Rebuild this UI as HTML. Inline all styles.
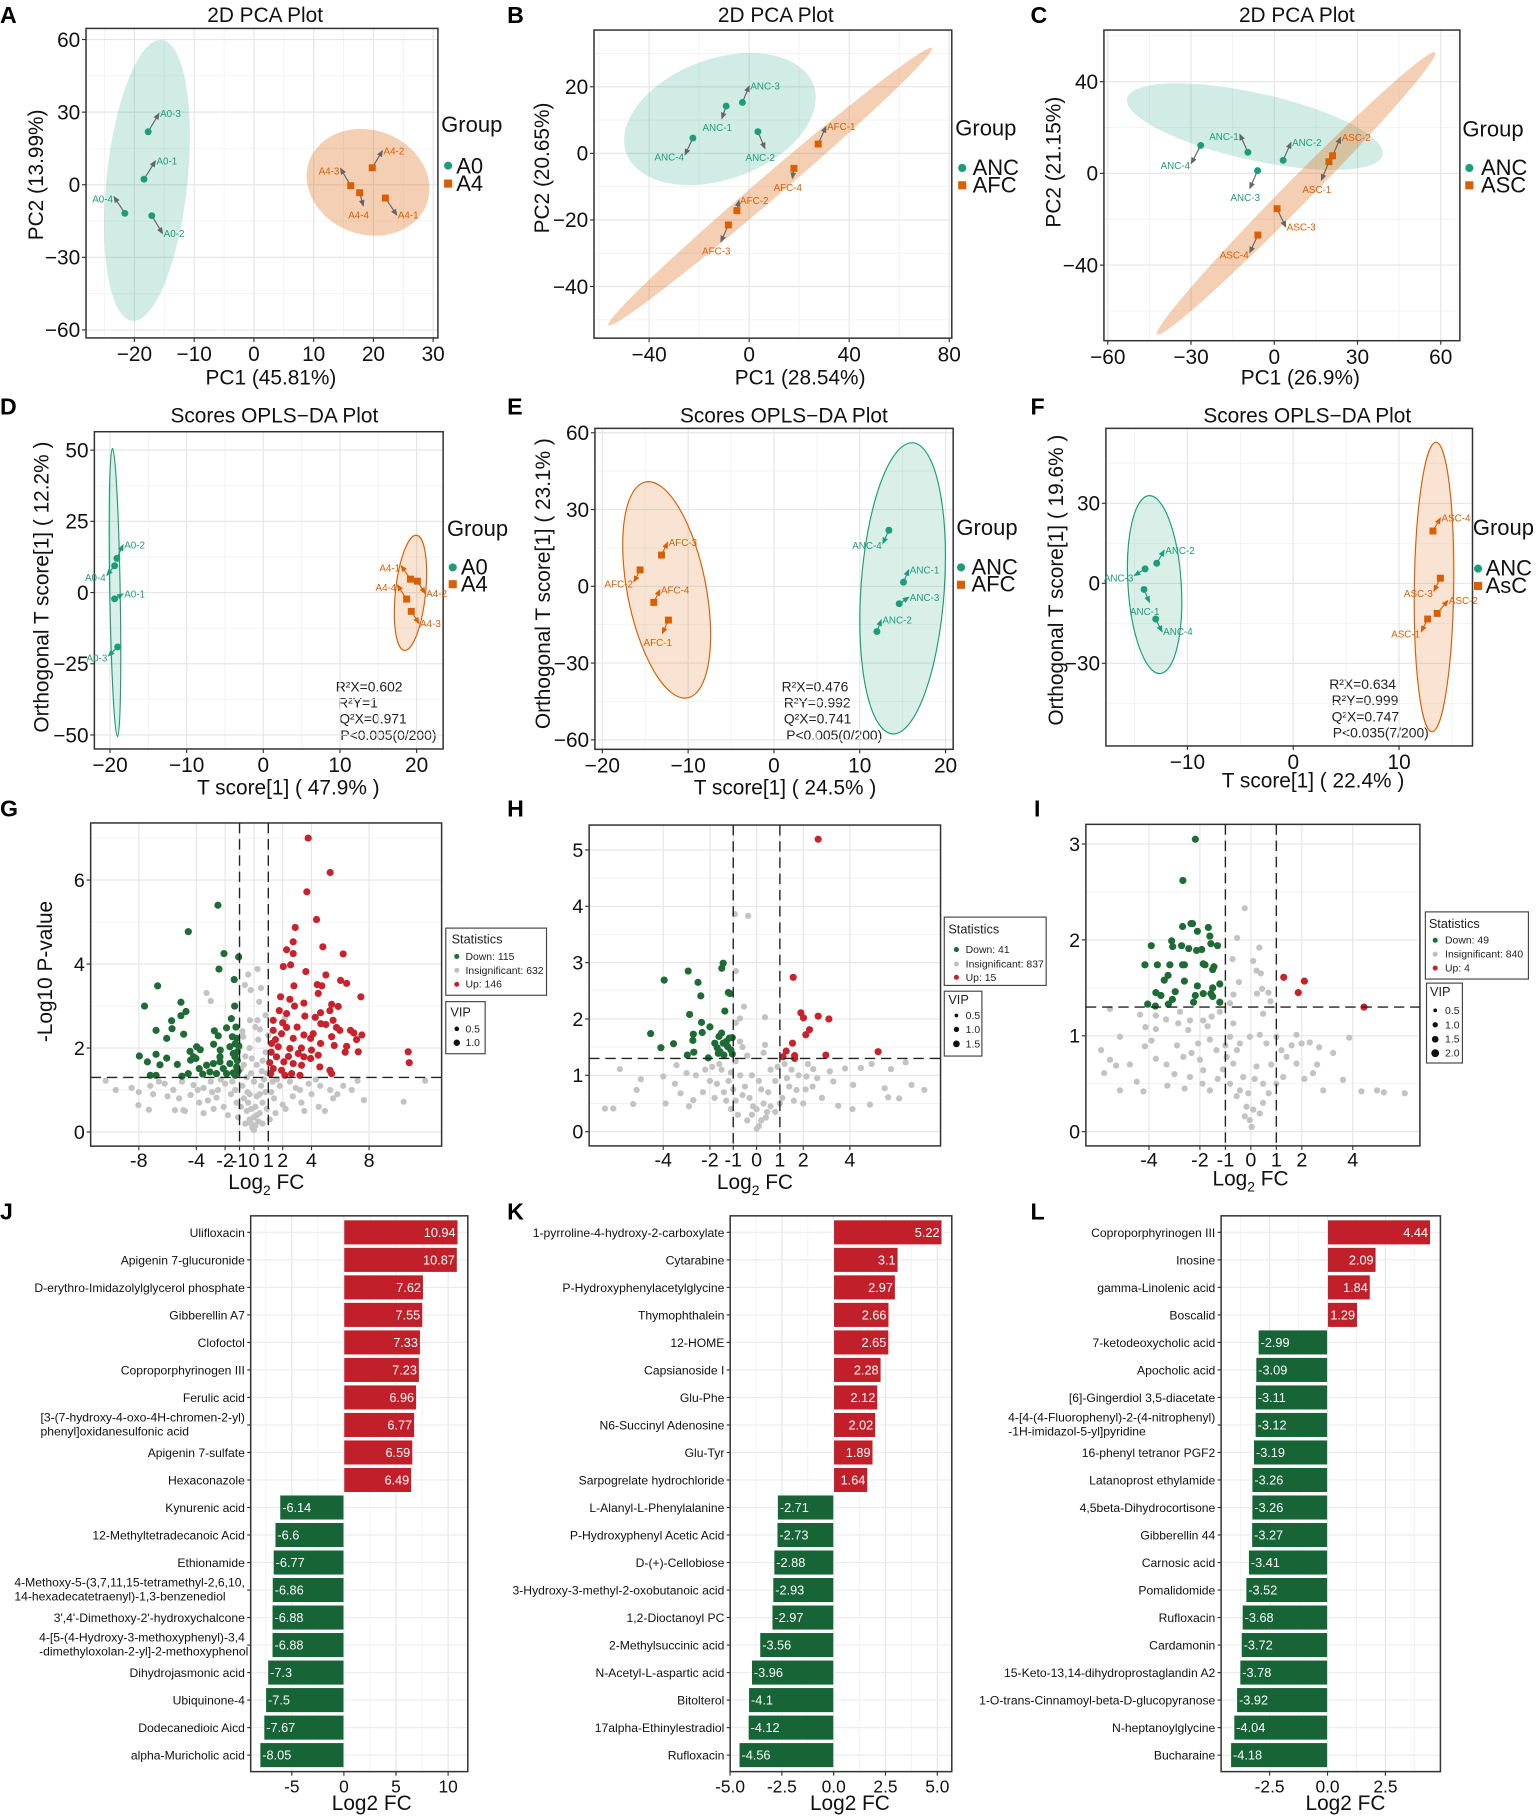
<!DOCTYPE html>
<html><head><meta charset="utf-8"><title>Metabolomics figure</title>
<style>
html,body{margin:0;padding:0;background:#fff;}
svg{display:block;font-family:"Liberation Sans",Arial,sans-serif;}
.tt{font-size:18px;fill:#111;}
.ax{font-size:18px;fill:#111;}
.lt{font-size:20px;font-weight:bold;fill:#000;}
.st{font-size:12px;fill:#222;}
.lg{font-size:19px;fill:#111;}
.lgs{font-size:9px;fill:#222;}
</style></head>
<body>
<svg id="fig" xmlns="http://www.w3.org/2000/svg" width="1540" height="1818" viewBox="0 0 1330 1570">
<defs>
<marker id="arG" markerWidth="6" markerHeight="6" refX="5" refY="3" orient="auto" markerUnits="userSpaceOnUse"><path d="M0,0.5 L6,3 L0,5.5z" fill="#666"/></marker>
<marker id="arT" markerWidth="6" markerHeight="6" refX="5" refY="3" orient="auto" markerUnits="userSpaceOnUse"><path d="M0,0.5 L6,3 L0,5.5z" fill="#1b9e77"/></marker>
<marker id="arO" markerWidth="6" markerHeight="6" refX="5" refY="3" orient="auto" markerUnits="userSpaceOnUse"><path d="M0,0.5 L6,3 L0,5.5z" fill="#d95f02"/></marker>
</defs>
<rect x="0" y="0" width="1330" height="1570" fill="#fff"/>

<!-- panel letters -->
<text class="lt" x="0" y="20">A</text>
<text class="lt" x="438" y="20">B</text>
<text class="lt" x="890" y="20">C</text>
<text class="lt" x="0" y="358">D</text>
<text class="lt" x="438" y="358">E</text>
<text class="lt" x="890" y="358">F</text>
<text class="lt" x="0" y="705">G</text>
<text class="lt" x="438" y="705">H</text>
<text class="lt" x="893" y="705">I</text>
<text class="lt" x="0" y="1053">J</text>
<text class="lt" x="438" y="1053">K</text>
<text class="lt" x="890" y="1053">L</text>

<!-- titles -->
<text class="tt" x="229" y="19" text-anchor="middle">2D PCA Plot</text>
<text class="tt" x="670" y="19" text-anchor="middle">2D PCA Plot</text>
<text class="tt" x="1120" y="19" text-anchor="middle">2D PCA Plot</text>
<text class="tt" x="237" y="365" text-anchor="middle">Scores OPLS−DA Plot</text>
<text class="tt" x="677" y="365" text-anchor="middle">Scores OPLS−DA Plot</text>
<text class="tt" x="1129" y="365" text-anchor="middle">Scores OPLS−DA Plot</text>

<!-- axis titles -->
<text class="ax" x="234" y="332" text-anchor="middle">PC1 (45.81%)</text>
<text class="ax" x="691" y="332" text-anchor="middle">PC1 (28.54%)</text>
<text class="ax" x="1123" y="332" text-anchor="middle">PC1 (26.9%)</text>
<text class="ax" transform="translate(37,151) rotate(-90)" text-anchor="middle">PC2 (13.99%)</text>
<text class="ax" transform="translate(474,145) rotate(-90)" text-anchor="middle">PC2 (20.65%)</text>
<text class="ax" transform="translate(916,140) rotate(-90)" text-anchor="middle">PC2 (21.15%)</text>
<text class="ax" x="249" y="686" text-anchor="middle">T score[1] ( 47.9% )</text>
<text class="ax" x="678" y="686" text-anchor="middle">T score[1] ( 24.5% )</text>
<text class="ax" x="1134" y="680" text-anchor="middle">T score[1] ( 22.4% )</text>
<text class="ax" transform="translate(42,507) rotate(-90)" text-anchor="middle">Orthogonal T score[1] ( 12.2% )</text>
<text class="ax" transform="translate(475,504) rotate(-90)" text-anchor="middle">Orthogonal T score[1] ( 23.1% )</text>
<text class="ax" transform="translate(918,501) rotate(-90)" text-anchor="middle">Orthogonal T score[1] ( 19.6% )</text>
<text class="ax" transform="translate(45,839) rotate(-90)" text-anchor="middle">-Log10 P-value</text>
<text class="ax" x="230" y="1027" text-anchor="middle">Log<tspan font-size="12" dy="5">2</tspan><tspan dy="-5"> FC</tspan></text>
<text class="ax" x="652" y="1027" text-anchor="middle">Log<tspan font-size="12" dy="5">2</tspan><tspan dy="-5"> FC</tspan></text>
<text class="ax" x="1080" y="1024" text-anchor="middle">Log<tspan font-size="12" dy="5">2</tspan><tspan dy="-5"> FC</tspan></text>
<text class="ax" x="321" y="1563" text-anchor="middle">Log2 FC</text>
<text class="ax" x="734" y="1563" text-anchor="middle">Log2 FC</text>
<text class="ax" x="1162" y="1563" text-anchor="middle">Log2 FC</text>

<!-- group legends -->
<g>
<text class="lg" x="381" y="114">Group</text>
<circle cx="387" cy="143" r="3.5" fill="#1b9e77"/>
<text class="lg" x="394" y="150">A0</text>
<rect x="383.5" y="155" width="7" height="7" fill="#d95f02"/>
<text class="lg" x="394" y="165">A4</text>
</g>
<g>
<text class="lg" x="825" y="117">Group</text>
<circle cx="831" cy="145" r="3.5" fill="#1b9e77"/>
<text class="lg" x="840" y="151">ANC</text>
<rect x="827.5" y="156.5" width="7" height="7" fill="#d95f02"/>
<text class="lg" x="840" y="166">AFC</text>
</g>
<g>
<text class="lg" x="1263" y="118">Group</text>
<circle cx="1269" cy="145" r="3.5" fill="#1b9e77"/>
<text class="lg" x="1279" y="151">ANC</text>
<rect x="1265.5" y="156.5" width="7" height="7" fill="#d95f02"/>
<text class="lg" x="1279" y="166">ASC</text>
</g>
<g>
<text class="lg" x="386" y="463">Group</text>
<circle cx="391" cy="490" r="3.5" fill="#1b9e77"/>
<text class="lg" x="398" y="496">A0</text>
<rect x="387.5" y="501" width="7" height="7" fill="#d95f02"/>
<text class="lg" x="398" y="511">A4</text>
</g>
<g>
<text class="lg" x="826" y="462">Group</text>
<circle cx="830" cy="490" r="3.5" fill="#1b9e77"/>
<text class="lg" x="839" y="496">ANC</text>
<rect x="826.5" y="501.5" width="7" height="7" fill="#d95f02"/>
<text class="lg" x="839" y="511">AFC</text>
</g>
<g>
<text class="lg" x="1272" y="462">Group</text>
<circle cx="1276.5" cy="491" r="3.5" fill="#1b9e77"/>
<text class="lg" x="1283" y="497">ANC</text>
<rect x="1273" y="502.5" width="7" height="7" fill="#d95f02"/>
<text class="lg" x="1283" y="512">AsC</text>
</g>

<!-- OPLS stats -->
<g>
<text class="st" x="290" y="597">R²X=0.602</text><text class="st" x="292" y="611">R²Y=1</text>
<text class="st" x="293" y="625">Q²X=0.971</text><text class="st" x="294" y="639">P&lt;0.005(0/200)</text>
</g>
<g>
<text class="st" x="675" y="597">R²X=0.476</text><text class="st" x="677" y="611">R²Y=0.992</text>
<text class="st" x="677" y="625">Q²X=0.741</text><text class="st" x="679" y="639">P&lt;0.005(0/200)</text>
</g>
<g>
<text class="st" x="1148" y="595">R²X=0.634</text><text class="st" x="1150" y="609">R²Y=0.999</text>
<text class="st" x="1150" y="623">Q²X=0.747</text><text class="st" x="1151" y="637">P&lt;0.035(7/200)</text>
</g>

<!-- volcano legends -->
<g>
<rect x="385" y="801.5" width="87" height="58" fill="#fff" stroke="#444" stroke-width="1"/>
<text x="390" y="815" font-size="11" fill="#222">Statistics</text>
<circle cx="394.5" cy="826" r="2.2" fill="#1e6b35"/><text class="lgs" x="402" y="829">Down: 115</text>
<circle cx="394.5" cy="838" r="2.2" fill="#c0c0c0"/><text class="lgs" x="402" y="841">Insignificant: 632</text>
<circle cx="394.5" cy="850" r="2.2" fill="#c8232c"/><text class="lgs" x="402" y="853">Up: 146</text>
</g>
<g>
<rect x="385" y="865" width="34" height="45" fill="#fff" stroke="#444" stroke-width="1"/>
<text x="389" y="878" font-size="11" fill="#222">VIP</text>
<circle cx="394.5" cy="888.5" r="2" fill="#111"/><text class="lgs" x="402" y="891.5">0.5</text>
<circle cx="394.5" cy="900.5" r="2.8" fill="#111"/><text class="lgs" x="402" y="903.5">1.0</text>
</g>
<g>
<rect x="815.5" y="792" width="88" height="59" fill="#fff" stroke="#444" stroke-width="1"/>
<text x="819" y="806" font-size="11" fill="#222">Statistics</text>
<circle cx="826" cy="820" r="2.2" fill="#1e6b35"/><text class="lgs" x="834" y="823">Down: 41</text>
<circle cx="826" cy="832.5" r="2.2" fill="#c0c0c0"/><text class="lgs" x="834" y="835.5">Insignificant: 837</text>
<circle cx="826" cy="844" r="2.2" fill="#c8232c"/><text class="lgs" x="834" y="847">Up: 15</text>
</g>
<g>
<rect x="815.5" y="856" width="32.5" height="56" fill="#fff" stroke="#444" stroke-width="1"/>
<text x="819" y="867" font-size="11" fill="#222">VIP</text>
<circle cx="826" cy="877" r="1.6" fill="#111"/><text class="lgs" x="834" y="880">0.5</text>
<circle cx="826" cy="889" r="2.3" fill="#111"/><text class="lgs" x="834" y="892">1.0</text>
<circle cx="826" cy="901.5" r="2.9" fill="#111"/><text class="lgs" x="834" y="904.5">1.5</text>
</g>
<g>
<rect x="1231" y="787.5" width="89" height="58" fill="#fff" stroke="#444" stroke-width="1"/>
<text x="1234" y="801.5" font-size="11" fill="#222">Statistics</text>
<circle cx="1239.5" cy="812" r="2.2" fill="#1e6b35"/><text class="lgs" x="1248" y="815">Down: 49</text>
<circle cx="1239.5" cy="824" r="2.2" fill="#c0c0c0"/><text class="lgs" x="1248" y="827">Insignificant: 840</text>
<circle cx="1239.5" cy="836" r="2.2" fill="#c8232c"/><text class="lgs" x="1248" y="839">Up: 4</text>
</g>
<g>
<rect x="1232" y="849" width="31" height="69" fill="#fff" stroke="#444" stroke-width="1"/>
<text x="1235" y="860" font-size="11" fill="#222">VIP</text>
<circle cx="1239.5" cy="872.5" r="1.6" fill="#111"/><text class="lgs" x="1248" y="875.5">0.5</text>
<circle cx="1239.5" cy="885" r="2.3" fill="#111"/><text class="lgs" x="1248" y="888">1.0</text>
<circle cx="1239.5" cy="897.5" r="2.9" fill="#111"/><text class="lgs" x="1248" y="900.5">1.5</text>
<circle cx="1239.5" cy="909.5" r="3.4" fill="#111"/><text class="lgs" x="1248" y="912.5">2.0</text>
</g>

<g id="plots"></g>
</svg>

<script>
// ===== PCA / OPLS data =====
const A_names=['A0-1','A0-2','A0-3','A0-4','A4-1','A4-2','A4-3','A4-4'];
const A_group=[0,0,0,0,1,1,1,1];
const A_x=[-18.4,-17.1,-17.7,-21.6,22,19.8,16.2,17.7];
const A_y=[2.3,-12.8,21.9,-11.8,-5.5,7,-0.4,-3.3];
const A_tx=[-16.5,-15.3,-15.9,-23.4,23.9,21.5,14.5,18.3];
const A_ty=[9.8,-20.1,29.4,-5,-12.5,14,6.7,-8.7];

const B_names=['ANC-1','ANC-2','ANC-3','ANC-4','AFC-1','AFC-2','AFC-3','AFC-4'];
const B_group=[0,0,0,0,1,1,1,1];
const B_x=[-9.2,3.5,-2.7,-22.5,27.6,-4.9,-8.3,17.9];
const B_y=[14.2,6.5,15.3,4.6,2.8,-17.2,-21.5,-4.5];
const B_tx=[-10.9,6.3,0,-25.6,30.7,-4.1,-11.3,17.3];
const B_ty=[10.5,1.5,20.2,-0.4,8,-14.2,-26.5,-7.5];

const C_names=['ANC-1','ANC-2','ANC-3','ANC-4','ASC-1','ASC-2','ASC-3','ASC-4'];
const C_group=[0,0,0,0,1,1,1,1];
const C_x=[-9.5,3.2,-6,-26.5,19.7,21,1,-5.9];
const C_y=[9.2,5.7,1.2,12.2,5.1,7.7,-15.4,-26.9];
const C_tx=[-12.4,6,-8.8,-29.9,17,23.9,4.1,-8.8];
const C_ty=[17,13.4,-6.5,4.4,-2.9,15.6,-23.3,-34.5];

const D_names=['A0-1','A0-2','A0-3','A0-4','A4-1','A4-2','A4-3','A4-4'];
const D_group=[0,0,0,0,1,1,1,1];
const D_x=[-19.4,-19.1,-19,-19.4,19.2,20.1,19.3,18.7];
const D_y=[-2.2,12,-19.1,9.4,4.7,4,-6.6,-2.3];
const D_tx=[-18.3,-18.3,-20.2,-20.4,18,21.1,20.3,17.5];
const D_ty=[-0.5,16.7,-22.2,6.1,9.4,-0.3,-10.8,2.6];

const E_names=['AFC-1','AFC-2','AFC-3','AFC-4','ANC-1','ANC-2','ANC-3','ANC-4'];
const E_group=[1,1,1,1,0,0,0,0];
const E_x=[-12.3,-15.6,-13.1,-14,15.1,12,14.6,13.4];
const E_y=[-13.2,6.4,12.2,-6.3,1.6,-17.7,-6.8,21.9];
const E_tx=[-13,-16.3,-12.4,-13.3,15.7,12.5,15.7,12.7];
const E_ty=[-18.4,1.8,17.1,-1.4,6.4,-13.2,-4.3,16.8];

const F_names=['ANC-1','ANC-2','ANC-3','ANC-4','ASC-1','ASC-2','ASC-3','ASC-4'];
const F_group=[0,0,0,0,1,1,1,1];
const F_x=[-14.1,-12.9,-14,-13,12.7,13.6,13.9,13.2];
const F_y=[-2.3,7.5,5.4,-13.4,-13.4,-11.3,1.9,19.6];
const F_tx=[-13.6,-12.2,-15,-12.4,12.1,14.6,13.3,13.9];
const F_ty=[-7.1,12.3,2.9,-18.1,-18.1,-6.5,-2.9,24.4];

// confidence ellipse centres (data units)
const A_ellCx=[-17.9,19.1], A_ellCy=[1.8,1];
const B_ellCx=[-11.7,8.4], B_ellCy=[10.3,-10];
const C_ellCx=[-7,7.9], C_ellCy=[20.4,-8.7];
const D_ellCx=[-19.35,19.2], D_ellCy=[0,-0.1];
const E_ellCx=[15,-12.5], E_ellCy=[-0.8,-1.4];
const F_ellCx=[-13.1,13.3], F_ellCy=[-0.5,-1.4];

// ===== Volcano data =====
const G_down=[[-2.5,5.4],[-4.56,4.77],[-2.08,4.25],[-1.06,4.17],[-2.43,3.88],[-1.37,3.63],[-6.69,3.48],[-7.6,3.0],[-5.07,3.09],[-4.72,2.87],[-5.72,2.65],[-5.07,2.77],[-1.34,3.0],[-1.57,2.7],[-6.8,2.42],[-5.69,2.46],[-6.06,2.23],[-4.88,2.33],[-2.75,2.41],[-2.48,2.29],[-1.9,2.48],[-1.25,2.5],[-1.2,2.23],[-4.44,1.92],[-3.98,2.03],[-3.73,1.96],[-2.8,2.09],[-2.34,1.95],[-1.67,2.03],[-1.3,2.1],[-7.96,1.81],[-6.8,1.85],[-7.4,1.67],[-6.53,1.6],[-6.06,1.76],[-5.32,1.61],[-4.4,1.71],[-4.03,1.75],[-3.8,1.51],[-3.29,1.59],[-2.82,1.63],[-2.36,1.67],[-2.13,1.51],[-1.67,1.63],[-1.32,1.79],[-1.2,1.55],[-7.2,1.35],[-6.8,1.35],[-5.0,1.33],[-4.56,1.39],[-3.56,1.38],[-3.06,1.43],[-2.6,1.39],[-1.9,1.39],[-1.44,1.41],[-1.16,1.91],[-1.44,1.87],[-1.5,2.27],[-2.36,1.79],[-4.2,1.79],[-1.1,1.45],[-1.15,1.7],[-1.3,1.35],[-1.05,2.05]];
const G_up=[[3.77,7.0],[5.3,6.18],[3.68,5.72],[4.35,5.06],[2.87,4.87],[4.79,4.41],[2.73,4.53],[2.27,4.34],[2.73,4.25],[6.2,4.24],[2.04,3.94],[2.55,3.98],[3.61,3.82],[5.0,3.74],[6.02,3.61],[6.44,3.54],[4.4,3.51],[4.72,3.48],[2.78,3.48],[7.43,3.22],[1.85,3.22],[2.5,3.16],[4.47,3.3],[3.47,3.07],[5.4,3.04],[5.86,2.99],[2.82,3.0],[1.76,2.89],[1.34,2.66],[2.27,2.82],[3.54,2.76],[4.26,2.73],[4.63,2.84],[5.28,2.89],[5.5,2.66],[4.65,2.58],[5.0,2.56],[5.74,2.49],[5.97,2.42],[6.71,2.42],[6.94,2.36],[7.5,2.31],[7.13,2.2],[1.34,2.42],[1.92,2.34],[2.27,2.49],[2.73,2.23],[3.47,2.31],[3.94,2.23],[4.12,2.34],[4.63,2.11],[5.4,2.27],[5.58,2.06],[6.44,2.04],[6.34,1.9],[7.25,1.91],[1.23,2.11],[1.69,2.03],[2.5,1.99],[3.08,1.87],[3.47,1.79],[4.0,1.95],[4.47,1.83],[1.57,1.79],[2.08,1.67],[2.73,1.63],[3.31,1.59],[3.94,1.75],[4.58,1.55],[5.28,1.47],[1.34,1.51],[1.92,1.47],[2.62,1.39],[3.2,1.35],[5.4,1.39],[10.72,1.91],[10.79,1.65],[1.16,1.39],[2.15,1.35],[1.2,1.9],[1.5,2.2],[2.0,2.6],[3.0,2.5],[3.3,2.0],[2.4,1.8],[1.1,1.65]];
const G_ns=[[-10.3,1.22],[11.9,1.22],[-8.03,0.64],[-7.3,0.53],[-5.49,0.52],[-4.9,0.52],[7.64,0.76],[10.4,0.72],[4.93,0.5],[-3.29,3.31],[-3.0,3.12],[-0.39,3.75],[0.25,3.88],[-0.63,3.5],[-0.23,3.38],[0.37,3.1],[0.49,3.43],[-0.28,2.66],[0.25,2.66],[0.81,2.78],[2.15,2.7],[0.42,2.44],[-0.74,2.27],[-9.6,1.0],[-8.5,1.05],[-7.2,1.1],[-6.2,1.15],[-5.0,1.2],[-4.2,1.12],[-3.5,1.05],[-3,1.2],[-2.5,1.0],[-2.0,1.15],[1.8,1.1],[2.5,1.2],[3.2,1.0],[3.8,1.15],[4.6,1.1],[5.3,1.0],[5.8,0.9],[6.2,1.1],[7.2,1.22],[-8.0,0.95],[-7.0,0.9],[-6,0.85],[-5.2,0.8],[-4.4,0.88],[-3.8,0.7],[-3.2,0.75],[-2.6,0.82],[-2.1,0.6],[-1.6,0.9],[-1.2,0.7],[1.4,0.8],[2.0,0.65],[2.7,0.85],[3.3,0.7],[4.0,0.9],[4.5,0.6],[5.5,0.8],[-4.8,0.5],[-3.5,0.45],[-2.8,0.55],[-1.8,0.4],[1.5,0.45],[2.2,0.55],[3.5,0.5],[-0.9,1.5],[-0.6,1.8],[-0.3,2.0],[0.3,2.2],[0.6,1.7],[0.9,1.4],[-0.8,1.1],[-0.5,1.3],[0,1.2],[0.5,1.1],[0.8,0.95],[-0.7,0.8],[-0.3,0.9],[0.2,0.85],[0.6,0.7],[-0.5,0.5],[-0.2,0.55],[0.1,0.6],[0.4,0.45],[-0.3,0.3],[0,0.35],[0.3,0.25],[-0.1,0.1],[0.1,0.15],[0,0.05],[-0.6,0.2],[0.6,0.2],[-1.1,0.35],[1.1,0.3],[-1.4,1.4],[1.3,1.2],[-1.0,2.0],[1.0,2.3],[0.2,1.6],[-0.2,1.4],[-0.9,0.6],[0.9,0.55],[-0.4,0.7],[0.4,0.9],[-1.3,1.0],[1.2,0.95],[-0.7,1.6],[0.7,1.25],[-1.5,1.2],[1.6,1.25],[-2.3,1.25],[-2.9,0.95],[2.9,1.05],[-3.9,1.0],[4.3,1.25],[-5.6,1.0],[6.8,1.0],[-6.6,1.2],[-0.2,0.2],[0.2,0.4],[-0.45,0.95],[0.55,1.45],[-0.15,1.75],[0.8,1.9],[-0.8,2.4],[0.1,2.5]];

const H_down=[[-4.54,1.74],[-4.1,1.49],[-3.56,1.56],[-3.96,2.69],[-2.93,2.85],[-2.51,2.65],[-2.39,2.41],[-2.87,2.08],[-2.36,1.94],[-2.0,1.86],[-2.33,1.76],[-2.71,1.73],[-2.73,1.62],[-2.69,1.41],[-2.97,1.36],[-2.07,1.31],[-1.43,2.99],[-1.49,2.9],[-1.21,2.47],[-1.14,2.45],[-1.36,2.14],[-1.61,1.69],[-1.43,1.57],[-1.17,1.66],[-1.04,1.67],[-1.79,1.57],[-1.69,1.49],[-1.57,1.42],[-1.4,1.36],[-1.04,1.38],[-1.24,1.51],[-1.64,1.39],[-1.3,1.6],[-1.5,1.75],[-1.1,1.45]];
const H_up=[[2.64,5.19],[1.57,2.74],[1.9,2.11],[2.01,2.02],[2.64,2.05],[3.1,2.0],[2.27,1.81],[2.11,1.72],[1.54,1.57],[1.27,1.43],[1.13,1.33],[1.63,1.35],[1.63,1.3],[2.97,1.36],[5.21,1.42]];
const H_ns=[[-0.93,3.86],[-0.36,3.83],[-0.89,2.85],[-0.54,2.22],[-0.71,2.01],[0.36,2.03],[-0.89,1.93],[0.36,1.54],[-0.71,1.6],[-5.86,1.11],[-6.5,0.41],[-6.14,0.41],[-5.29,0.49],[-4.96,0.93],[-5.14,0.74],[-3.9,0.5],[-4,0.98],[-3.43,1.18],[-3.0,1.04],[-3.26,0.68],[-2.71,0.56],[6.39,1.23],[6.64,0.83],[7.19,0.74],[6.11,0.59],[5.64,0.61],[5.76,1.11],[4.93,1.2],[4.47,1.13],[5.49,0.77],[4.86,0.48],[4.11,0.4],[3.5,0.46],[4.14,0.83],[3.79,1.12],[3.29,0.89],[2.43,1.11],[3.14,1.07],[2.14,0.98],[1.71,0.74],[2,0.5],[-1.5,1.1],[-1.2,0.9],[-2.0,0.9],[-2.3,0.7],[-1.8,0.6],[-1.3,0.55],[-1.0,0.75],[-0.7,1.0],[-0.5,0.8],[-0.3,0.6],[0,0.4],[0.3,0.5],[0.5,0.7],[0.8,0.9],[1.1,0.6],[1.4,0.8],[1.8,1.0],[2.4,0.8],[2.8,0.6],[-0.8,0.3],[-0.4,0.2],[0.1,0.1],[0,0.05],[0.4,0.25],[0.8,0.35],[-1.1,0.4],[-0.2,0.3],[0.2,0.2],[-2.6,1.0],[-1.6,1.2],[1.2,1.2],[0.6,1.1],[-0.9,1.25],[2.2,1.2],[-0.6,1.5],[-0.4,1.35],[0.3,1.4],[-2.9,0.45],[-1.7,0.85],[-1.4,0.7],[-0.9,0.55],[-0.6,0.65],[0.2,0.75],[0.6,0.45],[1.0,0.5],[1.3,0.95],[1.6,0.55],[2.1,0.75],[-2.2,1.1],[-1.9,1.15],[0.9,1.15],[-0.2,1.0],[0.1,0.9],[-3.5,0.85],[2.6,0.95],[1.5,1.1],[-1.1,1.05],[-0.15,0.45],[0.45,0.35]];

const I_down=[[-2.18,3.05],[-2.67,2.62],[-3.91,1.94],[-4.16,1.74],[-3.67,1.74],[-3.18,1.74],[-3.11,1.99],[-3.07,1.93],[-2.72,1.94],[-2.68,2.14],[-2.35,2.17],[-2.29,2.17],[-2.1,2.09],[-1.67,2.13],[-1.61,2.04],[-1.57,1.96],[-1.31,1.94],[-2.44,1.91],[-2.13,1.89],[-1.93,1.9],[-2.68,1.74],[-2.61,1.74],[-1.87,1.75],[-1.8,1.74],[-1.45,1.72],[-1.5,1.69],[-3.25,1.63],[-3.4,1.58],[-2.61,1.57],[-2.1,1.52],[-1.22,1.54],[-1.5,1.5],[-3.73,1.45],[-3.53,1.42],[-2.97,1.46],[-1.87,1.44],[-1.57,1.44],[-1.5,1.41],[-2.18,1.42],[-3.08,1.38],[-4.05,1.33],[-3.75,1.31],[-3.24,1.33],[-2.25,1.35],[-1.22,1.35]];
const I_up=[[1.29,1.61],[2.1,1.57],[1.86,1.45],[4.44,1.3]];
const I_ns=[[-0.24,2.33],[-0.54,2.02],[0.33,1.92],[-0.72,1.8],[0.09,1.78],[0.22,1.68],[0.39,1.65],[-0.47,1.56],[-0.68,1.43],[0.44,1.49],[0.69,1.45],[0.77,1.36],[0.24,1.44],[-5.53,1.28],[-5.14,0.99],[-5.88,0.85],[-5.53,0.75],[-5.76,0.61],[-5.29,0.69],[-4.75,0.7],[-4.48,0.52],[-5.14,0.43],[-4.22,0.42],[-4.16,0.89],[-4.14,1.09],[-4.35,1.22],[-3.73,1.21],[-3.33,1.17],[-3.73,1.07],[-3.9,0.95],[-3.73,0.76],[-3.31,0.7],[-3.28,0.48],[-2.78,1.25],[-2.85,1.13],[-2.46,1.06],[-1.87,1.16],[-1.54,1.2],[-1.22,1.25],[-2.33,0.82],[-2.65,0.78],[-2.07,0.92],[-1.61,0.96],[-1.35,0.85],[-0.95,0.78],[-1.87,0.64],[-2.39,0.57],[-1.61,0.43],[-0.69,1.13],[-0.82,0.99],[-0.43,0.92],[-0.04,0.99],[0.35,1.01],[0.61,0.92],[1.0,0.99],[1.79,1.01],[1.99,0.92],[2.31,0.93],[2.68,0.88],[3.23,0.82],[3.86,0.98],[3.62,0.54],[4.34,0.42],[4.95,0.43],[5.22,0.41],[6.04,0.4],[2.84,0.43],[2.44,0.61],[1.79,0.71],[1.27,0.57],[1.4,0.78],[1.0,0.5],[0.48,0.5],[-0.3,0.57],[-0.82,0.5],[-0.56,0.37],[-0.17,0.26],[0.09,0.23],[-0.04,0.12],[0.03,0.05],[-0.24,0.16],[0.35,0.19],[0.48,0.3],[-0.43,0.43],[0.22,0.68],[-0.69,0.71],[-0.82,1.34],[-2.39,1.16],[0.48,1.23],[-1.1,0.65],[-1.3,0.55],[-2.0,0.75],[-2.9,0.9],[-3.0,0.6],[-2.6,0.45],[-1.9,0.5],[0.8,0.7],[1.6,0.9],[2.1,0.55],[2.6,0.7],[-0.1,0.4],[0.15,0.55],[-0.55,0.85],[0.7,0.4],[-1.0,0.9],[-1.7,1.1],[1.2,0.85]];

// ===== Bar data =====
const J_names=['Ulifloxacin','Apigenin 7-glucuronide','D-erythro-Imidazolylglycerol phosphate','Gibberellin A7','Clofoctol','Coproporphyrinogen III','Ferulic acid','[3-(7-hydroxy-4-oxo-4H-chromen-2-yl)|phenyl]oxidanesulfonic acid','Apigenin 7-sulfate','Hexaconazole','Kynurenic acid','12-Methyltetradecanoic Acid','Ethionamide','4-Methoxy-5-(3,7,11,15-tetramethyl-2,6,10,|14-hexadecatetraenyl)-1,3-benzenediol',"3',4'-Dimethoxy-2'-hydroxychalcone",'4-[5-(4-Hydroxy-3-methoxyphenyl)-3,4|-dimethyloxolan-2-yl]-2-methoxyphenol','Dihydrojasmonic acid','Ubiquinone-4','Dodecanedioic Aicd','alpha-Muricholic acid'];
const J_vals=[10.94,10.87,7.62,7.55,7.33,7.23,6.96,6.77,6.59,6.49,-6.14,-6.6,-6.77,-6.86,-6.88,-6.88,-7.3,-7.5,-7.67,-8.05];
const J_ticks=[-5,0,5,10];
const K_names=['1-pyrroline-4-hydroxy-2-carboxylate','Cytarabine','P-Hydroxyphenylacetylglycine','Thymophthalein','12-HOME','Capsianoside I','Glu-Phe','N6-Succinyl Adenosine','Glu-Tyr','Sarpogrelate hydrochloride','L-Alanyl-L-Phenylalanine','P-Hydroxyphenyl Acetic Acid','D-(+)-Cellobiose','3-Hydroxy-3-methyl-2-oxobutanoic acid','1,2-Dioctanoyl PC','2-Methylsuccinic acid','N-Acetyl-L-aspartic acid','Bitolterol','17alpha-Ethinylestradiol','Rufloxacin'];
const K_vals=[5.22,3.1,2.97,2.66,2.65,2.28,2.12,2.02,1.89,1.64,-2.71,-2.73,-2.88,-2.93,-2.97,-3.56,-3.96,-4.1,-4.12,-4.56];
const K_ticks=[-5,-2.5,0,2.5,5];
const L_names=['Coproporphyrinogen III','Inosine','gamma-Linolenic acid','Boscalid','7-ketodeoxycholic acid','Apocholic acid','[6]-Gingerdiol 3,5-diacetate','4-[4-(4-Fluorophenyl)-2-(4-nitrophenyl)|-1H-imidazol-5-yl]pyridine','16-phenyl tetranor PGF2','Latanoprost ethylamide','4,5beta-Dihydrocortisone','Gibberellin 44','Carnosic acid','Pomalidomide','Rufloxacin','Cardamonin','15-Keto-13,14-dihydroprostaglandin A2','1-O-trans-Cinnamoyl-beta-D-glucopyranose','N-heptanoylglycine','Bucharaine'];
const L_vals=[4.44,2.09,1.84,1.29,-2.99,-3.09,-3.11,-3.12,-3.19,-3.26,-3.26,-3.27,-3.41,-3.52,-3.68,-3.72,-3.78,-3.92,-4.04,-4.18];
const L_ticks=[-2.5,0,2.5];

// ===== drawing helpers =====
const NS='http://www.w3.org/2000/svg';
const root=document.getElementById('plots');
function el(tag,parent){const e=document.createElementNS(NS,tag);parent.appendChild(e);return e;}
function at(e,o){for(const k in o)e.setAttribute(k,o[k]);return e;}
function lin(v0,p0,v1,p1){const k=(p1-p0)/(v1-v0);return v=>p0+(v-v0)*k;}
function fmtMinus(v){return v<0?'\u2212'+Math.abs(v):String(v);}

function axes(g,box,xs,ys,xt,yt,o){
  const [L,R,T,B]=box;
  const grid=el('g',g);
  
  
  function minors(t){const m=[];for(let i=0;i<t.length-1;i++)m.push((t[i]+t[i+1])/2);
    const d0=t[1]-t[0],d1=t[t.length-1]-t[t.length-2];m.push(t[0]-d0/2);m.push(t[t.length-1]+d1/2);
    m.push(t[0]-d0*1.5);m.push(t[t.length-1]+d1*1.5);return m;}
  if(o.xminor!==false) minors(xt).forEach(v=>{const p=xs(v);if(p>L+1&&p<R-1){const l=el('line',grid);at(l,{x1:p,x2:p,y1:T,y2:B,stroke:'#f2f2f2','stroke-width':0.8});}});
  if(yt && o.yminor!==false) minors(yt).forEach(v=>{const p=ys(v);if(p>T+1&&p<B-1){const l=el('line',grid);at(l,{x1:L,x2:R,y1:p,y2:p,stroke:'#f2f2f2','stroke-width':0.8});}});
  xt.forEach(v=>{const p=xs(v);if(p>L&&p<R){const l=el('line',grid);at(l,{x1:p,x2:p,y1:T,y2:B,stroke:'#e6e6e6','stroke-width':1});}});
  if(yt) yt.forEach(v=>{const p=ys(v);if(p>T&&p<B){const l=el('line',grid);at(l,{x1:L,x2:R,y1:p,y2:p,stroke:'#e6e6e6','stroke-width':1});}});
  if(o.cats) o.cats.forEach(p=>{const l=el('line',grid);at(l,{x1:L,x2:R,y1:p,y2:p,stroke:'#ececec','stroke-width':1});});
  const xa=el('g',g);
  
  
  xt.forEach((v,i)=>{const p=xs(v);
    const tk=el('line',xa);at(tk,{x1:p,x2:p,y1:B,y2:B+3.5,stroke:'#333','stroke-width':1});
    const t=el('text',xa);at(t,{x:p,y:B+o.xlOff,'text-anchor':'middle','font-size':o.fs,fill:'#111'});
    
    
    t.textContent=o.xlab?o.xlab[i]:(o.minus?fmtMinus(v):String(v));});
  if(yt){const ya=el('g',g);
    
    
    yt.forEach(v=>{const p=ys(v);
      const tk=el('line',ya);at(tk,{x1:L-3.5,x2:L,y1:p,y2:p,stroke:'#333','stroke-width':1});
      const t=el('text',ya);at(t,{x:L-5,y:p+o.fs*0.35,'text-anchor':'end','font-size':o.fs,fill:'#111'});
      
      
      t.textContent=o.minus?fmtMinus(v):String(v);});}
  const fr=el('rect',g);at(fr,{x:L,y:T,width:R-L,height:B-T,fill:'none',stroke:'#333','stroke-width':1.3});
  
  
}

const COL=['#1b9e77','#d95f02'];
function scorePlot(id,box,xs,ys,xt,yt,names,grp,X,Y,TX,TY,ellCx,ellCy,ellGeo,opls){
  const g=el('g',root);
  
  
  const clip=el('clipPath',g);clip.setAttribute('id','clip-'+id);
  const cr=el('rect',clip);at(cr,{x:box[0],y:box[2],width:box[1]-box[0],height:box[3]-box[2]});
  axes(g,box,xs,ys,xt,yt,{fs:18,xlOff:20,minus:true});
  const eg=el('g',g);eg.setAttribute('clip-path','url(#clip-'+id+')');
  ellCx.forEach((cx,i)=>{const [rx,ry,ang,gi]=ellGeo[i];
    const e=el('ellipse',eg);
    const px=xs(cx),py=ys(ellCy[i]);
    at(e,{cx:px,cy:py,rx:rx,ry:ry,transform:'rotate('+ang+' '+px+' '+py+')',fill:COL[gi],'fill-opacity':opls?0.17:(gi?0.3:0.2),stroke:opls?COL[gi]:'none','stroke-width':1});
    
    });
  names.forEach((n,i)=>{
    const gi=grp[i];const px=xs(X[i]),py=ys(Y[i]),qx=xs(TX[i]),qy=ys(TY[i]);
    const ln=el('line',g);
    const dx=qx-px,dy=qy-py,len=Math.hypot(dx,dy)||1;
    at(ln,{x1:px,y1:py,x2:qx,y2:qy,stroke:opls?COL[gi]:'#666','stroke-width':1,'marker-end':opls?(gi?'url(#arO)':'url(#arT)'):'url(#arG)'});
    
    
    let m;
    if(gi===0){m=el('circle',g);at(m,{cx:px,cy:py,r:3,fill:COL[0]});}
    else{m=el('rect',g);at(m,{x:px-3,y:py-3,width:6,height:6,fill:COL[1]});}
    
    
    const t=el('text',g);
    let anchor,tx,ty;
    if(Math.abs(dy)>2.2*Math.abs(dx)&&dy>0){anchor='middle';tx=qx-4;ty=qy+11;}
    else if(dx>=0){anchor='start';tx=qx+1;ty=qy+3;}
    else{anchor='end';tx=qx-1;ty=qy+5;}
    at(t,{x:tx,y:ty,'text-anchor':anchor,'font-size':8.5,fill:COL[gi]});
    
    
    t.textContent=n;});
}

scorePlot('pca-plot-a',[74.3,378.2,24.5,291.8],lin(0,219.3,10,270.9),lin(0,159.5,30,96.8),[-20,-10,0,10,20,30],[-60,-30,0,30,60],A_names,A_group,A_x,A_y,A_tx,A_ty,A_ellCx,A_ellCy,[[122,35,96,0],[54,45,20,1]],false);
scorePlot('pca-plot-b',[513,822,25.9,292],lin(0,647,40,733.4),lin(0,132.4,20,74.9),[-40,0,40,80],[-40,-20,0,20],B_names,B_group,B_x,B_y,B_tx,B_ty,B_ellCx,B_ellCy,[[86,52,-20,0],[184,10,-40.6,1]],false);
scorePlot('pca-plot-c',[953.4,1260.8,25.9,294.2],lin(0,1100.5,30,1172.4),lin(0,149.7,40,70.5),[-60,-30,0,30,60],[-40,0,40],C_names,C_group,C_x,C_y,C_tx,C_ty,C_ellCx,C_ellCy,[[113,29,12.5,0],[171,11,-45.4,1]],false);
scorePlot('opls-plot-d',[81.5,382.7,372.8,646.8],lin(0,227.4,10,293.6),lin(0,511.7,25,450.2),[-20,-10,0,10,20],[-50,-25,0,25,50],D_names,D_group,D_x,D_y,D_tx,D_ty,D_ellCx,D_ellCy,[[124.5,4.5,89,0],[50,13,-84,1]],true);
scorePlot('opls-plot-e',[513.8,823.2,369.9,647.1],lin(0,668.4,10,742.5),lin(0,506.3,30,440),[-20,-10,0,10,20],[-60,-30,0,30,60],E_names,E_group,E_x,E_y,E_tx,E_ty,E_ellCx,E_ellCy,[[126,36,94,0],[95,34,79,1]],true);
scorePlot('opls-plot-f',[955.1,1271.7,369.9,644.2],lin(0,1116.9,10,1208.3),lin(0,503.7,30,434.6),[-10,0,10],[-30,0,30],F_names,F_group,F_x,F_y,F_tx,F_ty,F_ellCx,F_ellCy,[[77,23,86.4,0],[125,17,90.8,1]],true);

function volcano(id,box,xs,ys,xt,yt,down,up,ns){
  const g=el('g',root);
  
  
  axes(g,box,xs,ys,xt,yt,{fs:17,xlOff:18,minus:false,xminor:false});
  const pg=el('g',g);
  
  
  [[ns,'#c3c3c3',2.7],[down,'#1e6b35',3.1],[up,'#c8232c',3.1]].forEach(([arr,c,r])=>{
    arr.forEach(d=>{const ci=el('circle',pg);at(ci,{cx:xs(d[0]),cy:ys(d[1]),r:r,fill:c});
      
      });});
  const th=el('g',g);
  
  
  [-1,1].forEach(v=>{const l=el('line',th);at(l,{x1:xs(v),x2:xs(v),y1:box[2],y2:box[3],stroke:'#222','stroke-width':1.2,'stroke-dasharray':'9,5'});});
  const l=el('line',th);at(l,{x1:box[0],x2:box[1],y1:ys(1.3),y2:ys(1.3),stroke:'#222','stroke-width':1.2,'stroke-dasharray':'9,5'});
}
volcano('volcano-plot-g',[78.3,381.4,710.7,989.8],lin(0,219.3,1,231.73),lin(0,977.6,6,760),[-8,-4,-2,-1,0,1,2,4,8],[0,2,4,6],G_down,G_up,G_ns);
volcano('volcano-plot-h',[508.8,812.3,712.5,989.6],lin(0,653.4,1,673.55),lin(0,977.3,5,734),[-4,-2,-1,0,1,2,4],[0,1,2,3,4,5],H_down,H_up,H_ns);
volcano('volcano-plot-i',[937.8,1226.3,711.9,989.6],lin(0,1080.3,1,1102.3),lin(0,977.3,3,728.9),[-4,-2,-1,0,1,2,4],[0,1,2,3],I_down,I_up,I_ns);

function bars(id,box,xs,xt,xlab,names,vals){
  const g=el('g',root);
  
  
  const [L,R,T,B]=box;
  const n=names.length,step=(B-T)/(n-1+1.2);
  const cy=i=>T+(0.6+i)*step;
  const cats=names.map((_,i)=>cy(i));
  axes(g,box,xs,null,xt,null,{fs:15,xlOff:18,minus:false,xlab:xlab,cats:cats});
  const bh=step*0.9;
  names.forEach((nm,i)=>{
    const v=vals[i],x0=xs(0),x1=xs(v),y=cy(i);
    const r=el('rect',g);
    at(r,{x:Math.min(x0,x1),y:y-bh/2,width:Math.abs(x1-x0),height:bh,fill:v>0?'#c1202a':'#176537',stroke:'#fff','stroke-width':0.6});
    
    
    const vt=el('text',g);
    at(vt,{x:v>0?x1-2:x1+2,y:y+4,'text-anchor':v>0?'end':'start','font-size':11,fill:'#fff'});
    
    
    vt.textContent=String(v);
    const tk=el('line',g);at(tk,{x1:L-3,x2:L,y1:y,y2:y,stroke:'#333','stroke-width':1});
    const parts=nm.split('|');
    const lab=el('text',g);
    at(lab,{x:L-5,y:parts.length>1?y-3:y+4,'text-anchor':'end','font-size':10.5,fill:'#111'});
    
    
    lab.textContent=parts[0];
    if(parts.length>1){
      const w=lab.getComputedTextLength();
      const l2=el('text',g);
      at(l2,{x:L-5-w,y:y+9,'text-anchor':'start','font-size':10.5,fill:'#111'});
      
      
      l2.textContent=parts[1];}
  });
}
bars('bar-chart-j',[216.5,404,1050,1530],lin(0,297,1,306),J_ticks,null,J_names,J_vals);
bars('bar-chart-k',[630.6,822,1050,1530],lin(0,720,1,737.9),K_ticks,['-5.0','-2.5','0.0','2.5','5.0'],K_names,K_vals);
bars('bar-chart-l',[1054.6,1244,1050,1530],lin(0,1146.5,1,1166.5),L_ticks,['-2.5','0.0','2.5'],L_names,L_vals);
</script>
</body></html>
